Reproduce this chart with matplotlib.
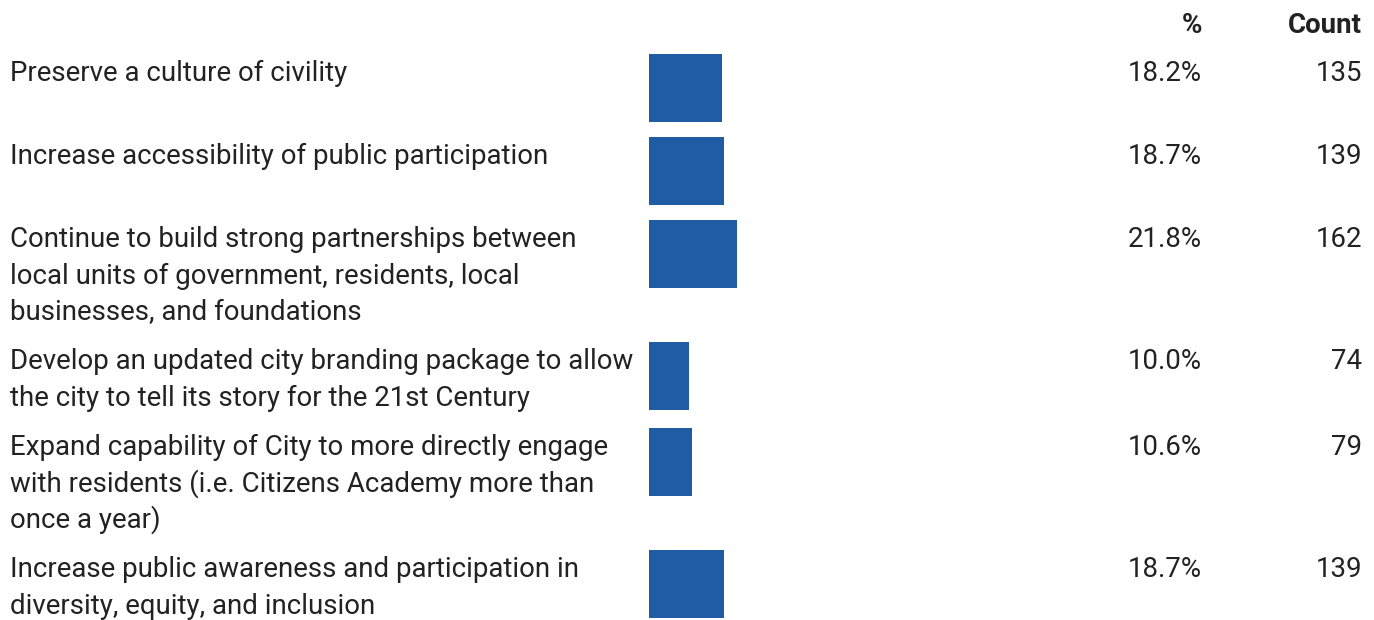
import matplotlib
matplotlib.use("Agg")
import matplotlib.pyplot as plt

plt.rcParams["font.family"] = ["Roboto", "DejaVu Sans"]

labels = [
    "Preserve a culture of civility",
    "Increase accessibility of public participation",
    "Continue to build strong partnerships between\nlocal units of government, residents, local\nbusinesses, and foundations",
    "Develop an updated city branding package to allow\nthe city to tell its story for the 21st Century",
    "Expand capability of City to more directly engage\nwith residents (i.e. Citizens Academy more than\nonce a year)",
    "Increase public awareness and participation in\ndiversity, equity, and inclusion",
]
percents = [18.2, 18.7, 21.8, 10.0, 10.6, 18.7]
counts = [135, 139, 162, 74, 79, 139]
headers = ["%", "Count"]

W, H = 1374, 620
BAR_COLOR = "#1f5ca3"
TEXT_COLOR = "#222222"
FS = 19.9
LINE_H = 36.5
BASE_OFF = 27
BAR_H = 67.7
MIN_ROW = 83

fig = plt.figure(figsize=(W / 100, H / 100), dpi=100)
fig.patch.set_facecolor("white")

# overlay axes in pixel units for the text columns
tx = fig.add_axes([0, 0, 1, 1])
tx.set_xlim(0, W)
tx.set_ylim(H, 0)
tx.axis("off")

# bar axes: 0..100 % spans 402 px starting at x=649
bx = fig.add_axes([649 / W, 0, 402 / W, 1])
bx.set_xlim(0, 100)
bx.set_ylim(H, 0)
bx.axis("off")

# header row
tx.text(1202, 33, headers[0], ha="right", va="baseline", fontsize=FS,
        fontweight="bold", color=TEXT_COLOR)
tx.text(1362, 33, headers[1], ha="right", va="baseline", fontsize=FS,
        fontweight="bold", color=TEXT_COLOR)

top = 54
tops = []
for lab in labels:
    tops.append(top)
    n = lab.count("\n") + 1
    top += max(MIN_ROW, n * 36 + 14)

centers = [t + BAR_H / 2 for t in tops]
bx.barh(centers, percents, height=BAR_H, left=0, color=BAR_COLOR)

for t, lab, p, c in zip(tops, labels, percents, counts):
    for i, line in enumerate(lab.split("\n")):
        tx.text(10, t + BASE_OFF + i * LINE_H, line, ha="left", va="baseline",
                fontsize=FS, color=TEXT_COLOR)
    tx.text(1202, t + BASE_OFF, f"{p:.1f}%", ha="right", va="baseline",
            fontsize=FS, color=TEXT_COLOR)
    tx.text(1362, t + BASE_OFF, f"{c}", ha="right", va="baseline",
            fontsize=FS, color=TEXT_COLOR)

fig.savefig("out.png", dpi=100, facecolor="white")
